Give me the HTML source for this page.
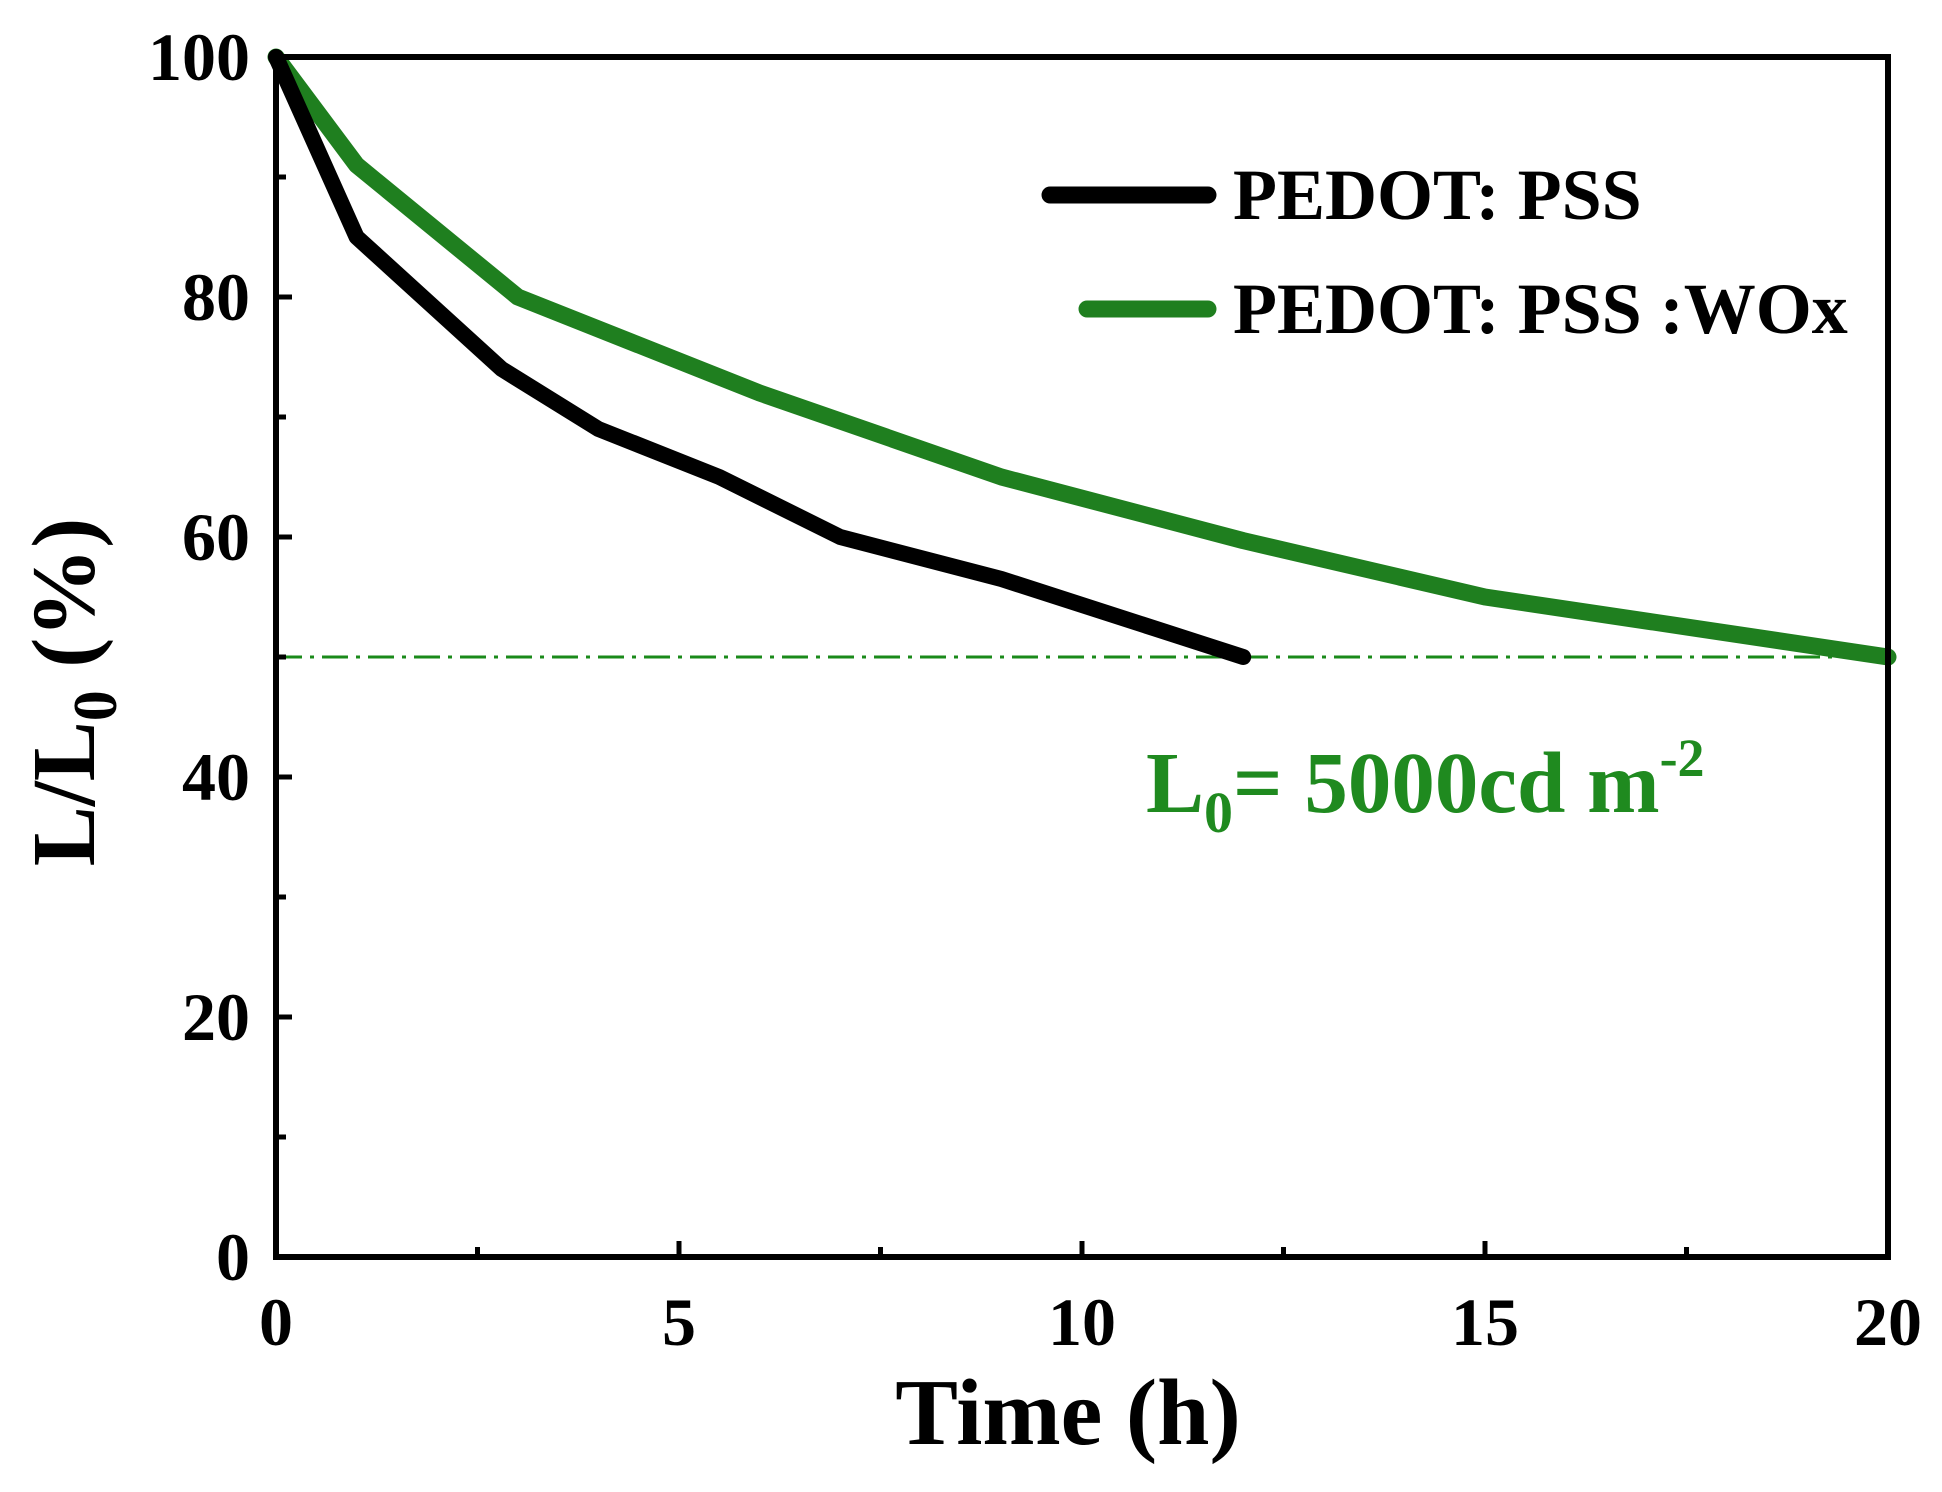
<!DOCTYPE html>
<html><head><meta charset="utf-8"><style>
html,body{margin:0;padding:0;background:#fff;}
svg{display:block;font-family:"Liberation Serif",serif;font-weight:bold;}
</style></head><body>
<svg id="chart" width="1942" height="1492" viewBox="0 0 1942 1492">
<g id="plot"></g>
<text x="1068" y="1444" text-anchor="middle" font-size="94">Time (h)</text>
<text transform="translate(94,692) rotate(-90)" text-anchor="middle" font-size="90">L/L<tspan font-size="62" dy="22">0</tspan><tspan dy="-22"> (%)</tspan></text>
<g>
<line x1="1050" y1="195" x2="1208" y2="195" stroke="#000" stroke-width="17" stroke-linecap="round"/>
<text x="1233" y="219" font-size="72">PEDOT: PSS</text>
<line x1="1087" y1="309" x2="1208" y2="309" stroke="#1f7f1f" stroke-width="17" stroke-linecap="round"/>
<text x="1233" y="333" font-size="72">PEDOT: PSS :WOx</text>
</g>
<text x="1146" y="812" font-size="87" fill="#1f8a1f">L<tspan font-size="58" dy="20">0</tspan><tspan dy="-20">= 5000cd m</tspan><tspan font-size="54" dy="-36">-2</tspan></text>
</svg>
<script>
const xTicks=[0,5,10,15,20];
const yTicks=[0,20,40,60,80,100];
const pedotX=[0,1,2.8,4,5.5,7,9,12];
const pedotY=[100,85,74,69,65,60,56.5,50];
const woxX=[0,1,3,6,9,12,15,20];
const woxY=[100,91,80,72,65,59.7,55,50];
const refLevel=50;
const X0=276,X1=1888,Y0=1257,Y1=57;
const sx=v=>X0+(v-0)/(20-0)*(X1-X0);
const sy=v=>Y0-(v-0)/(100-0)*(Y0-Y1);
const NS='http://www.w3.org/2000/svg';
const g=document.getElementById('plot');
function mk(t,a,p){const e=document.createElementNS(NS,t);for(const k in a)e.setAttribute(k,a[k]);(p||g).appendChild(e);return e;}
let rl=mk('line',{x1:sx(0),x2:sx(20),y1:sy(refLevel),y2:sy(refLevel),stroke:'#1a8a1a','stroke-width':3,'stroke-dasharray':'26 8 4 8'});


function series(xs,ys,col,w,name){
 const d=xs.map((x,i)=>(i?'L':'M')+sx(x)+' '+sy(ys[i])).join(' ');
 const p=mk('path',{d:d,fill:'none',stroke:col,'stroke-width':w,'stroke-linejoin':'round','stroke-linecap':'round'});
 
 
}
series(woxX,woxY,'#1f7f1f',17,'series-pedot-pss-wox');
series(pedotX,pedotY,'#000',16,'series-pedot-pss');
let fr=mk('rect',{x:X0,y:Y1,width:X1-X0,height:Y0-Y1,fill:'none',stroke:'#000','stroke-width':6});


for(let v=0;v<=20;v+=2.5){
 const len=(v%5===0)?16:10;
 mk('line',{x1:sx(v),x2:sx(v),y1:Y0,y2:Y0-len,stroke:'#000','stroke-width':5});
}
xTicks.forEach(v=>{
 const t=mk('text',{x:sx(v),y:1345,'text-anchor':'middle','font-size':68});t.textContent=v;
 
 
});
for(let v=0;v<=100;v+=10){
 const len=(v%20===0)?16:10;
 mk('line',{x1:X0,x2:X0+len,y1:sy(v),y2:sy(v),stroke:'#000','stroke-width':5});
}
yTicks.forEach(v=>{
 const t=mk('text',{x:250,y:sy(v)+23,'text-anchor':'end','font-size':68});t.textContent=v;
 
 
});
</script>
</body></html>
